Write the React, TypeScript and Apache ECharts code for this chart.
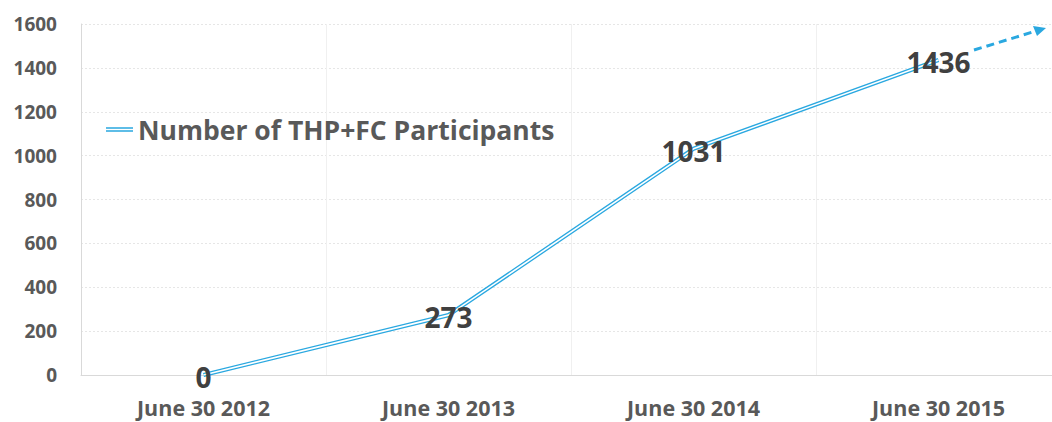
import React, { useEffect, useRef } from "react";
import * as echarts from "echarts";

const categories = ["June 30 2012", "June 30 2013", "June 30 2014", "June 30 2015"];
const participants = [0, 273, 1031, 1436];
const seriesName = "Number of THP+FC Participants";
const yTicks = { min: 0, max: 1600, interval: 200 };

const FONT = "Open Sans";

export default function App() {
  const ref = useRef<HTMLDivElement>(null);
  useEffect(() => {
    document.body.style.margin = "0";
    const chart = echarts.init(ref.current!, null, { renderer: "svg" });
    chart.setOption({
      animation: false,
      backgroundColor: "#ffffff",
      grid: { left: 81, width: 980, top: 24, bottom: 47, containLabel: false, outerBoundsMode: "none" },
      legend: {
        data: [seriesName],
        left: 101,
        top: 111,
        itemWidth: 27,
        itemHeight: 5,
        itemGap: 2,
        icon: "path://M0,0H30V1.6H0Z M0,3.4H30V5H0Z",
        textStyle: { fontFamily: FONT, fontWeight: "bold", fontSize: 26.5, color: "#595959" },
      },
      xAxis: {
        type: "category",
        data: categories,
        boundaryGap: true,
        axisLine: { show: true, lineStyle: { color: "#d9d9d9", width: 1 } },
        axisTick: { show: false },
        splitLine: { show: true, lineStyle: { color: "#f0f0f0", width: 1 } },
        axisLabel: {
          fontFamily: FONT,
          fontWeight: "bold",
          fontSize: 21.5,
          lineHeight: 22,
          color: "#595959",
          margin: 21,
        },
      },
      yAxis: {
        type: "value",
        min: yTicks.min,
        max: yTicks.max,
        interval: yTicks.interval,
        axisLine: { show: true, lineStyle: { color: "#d9d9d9", width: 1 } },
        axisTick: { show: false },
        splitLine: { show: true, lineStyle: { color: "#e6e6e6", width: 1, type: [2, 2] } },
        axisLabel: {
          fontFamily: FONT,
          fontWeight: "bold",
          fontSize: 19,
          color: "#595959",
          margin: 24,
          formatter: (v: number) => String(v),
        },
      },
      series: [
        {
          name: seriesName,
          type: "line",
          data: participants,
          symbol: "none",
          color: "#2aa8e0",
          lineStyle: { color: "#2aa8e0", width: 4.2 },
          z: 2,
        },
        {
          name: seriesName + " inner",
          type: "line",
          data: participants,
          symbol: "circle",
          symbolSize: 1,
          showSymbol: true,
          itemStyle: { color: "rgba(0,0,0,0)" },
          lineStyle: { color: "#ffffff", width: 1.6 },
          z: 3,
          label: {
            show: true,
            position: "inside",
            fontFamily: FONT,
            fontWeight: "bold",
            fontSize: 28,
            lineHeight: 26,
            color: "#404040",
            offset: [0, 2],
          },
        },
      ],
      graphic: [
        {
          type: "line",
          shape: { x1: 974, y1: 50, x2: 1036, y2: 31 },
          style: { stroke: "#2aa8e0", lineWidth: 3, lineDash: [8, 5] },
          z: 10,
        },
        {
          type: "polygon",
          shape: { points: [[1046, 28], [1033, 26], [1037, 36]] },
          style: { fill: "#2aa8e0" },
          z: 10,
        },
      ],
    });
    return () => chart.dispose();
  }, []);
  return <div ref={ref} style={{ width: 1052, height: 422, position: "fixed", left: 0, top: 0 }} />;
}
